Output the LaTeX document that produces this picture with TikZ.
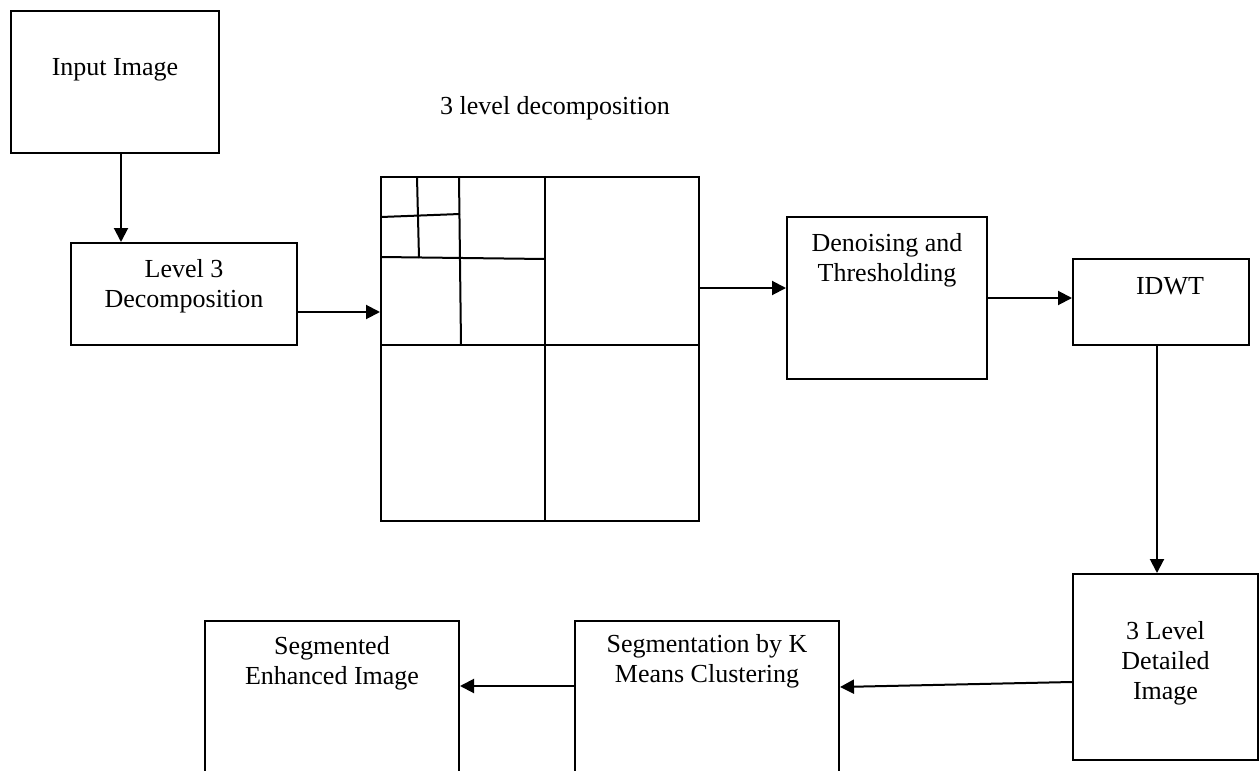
\documentclass[tikz,border=0pt]{standalone}
\usepackage{fontspec}
\setmainfont{Liberation Serif}
\usepackage{tikz}
\usetikzlibrary{positioning,arrows.meta}

\begin{document}
\begin{tikzpicture}[x=1pt,y=-1pt,
	blk/.style={rectangle,draw,line width=2pt},
	txt/.style={inner sep=0pt,align=center,font=\fontsize{26}{30}\selectfont},
	arr/.style={line width=2pt,-{Triangle[length=14pt,width=14pt]}},
	]
	\useasboundingbox (0,0) rectangle (1259,771);
	\clip (0,0) rectangle (1259,771);

	\node[blk,minimum width=208pt,minimum height=142pt] (inp) at (115,82) {};
	\node[blk,minimum width=226pt,minimum height=102pt] (lvl) at (184,294) {};
	\node[blk,minimum width=318pt,minimum height=344pt] (grid) at (540,349) {};
	\node[blk,minimum width=200pt,minimum height=162pt] (den) at (887,298) {};
	\node[blk,minimum width=176pt,minimum height=86pt] (idwt) at (1161,302) {};
	\node[blk,minimum width=185pt,minimum height=186pt] (det) at (1165.5,667) {};
	\node[blk,minimum width=264pt,minimum height=180pt] (seg) at (707,711) {};
	\node[blk,minimum width=254pt,minimum height=180pt] (sgd) at (332,711) {};

	\node[txt,below=48pt of inp.north] (inp-t) {Input Image};
	\node[txt,below=17pt of lvl.north] (lvl-t) {Level 3\\Decomposition};
	\node[txt,below=17pt of den.north] (den-t) {Denoising and\\Thresholding};
	\node[txt,below=19pt of idwt.north,xshift=9pt] (idwt-t) {IDWT};
	\node[txt,below=48pt of det.north] (det-t) {3 Level\\Detailed\\Image};
	\node[txt,below=14pt of seg.north] (seg-t) {Segmentation by K\\Means Clustering};
	\node[txt,below=16pt of sgd.north] (sgd-t) {Segmented\\Enhanced Image};
	\node[txt,anchor=base] (ttl) at ([xshift=15pt,yshift=62pt]grid.north) {3 level decomposition};

	\draw[line width=2pt] (545,177) -- (545,521);
	\draw[line width=2pt] (381,345) -- (699,345);
	\draw[line width=2pt] (459,177) -- (461,345);
	\draw[line width=2pt] (381,257) -- (545,259);
	\draw[line width=2pt] (417,177) -- (419,258);
	\draw[line width=2pt] (381,217) -- (460,214);

	\draw[arr] ([xshift=6pt]inp.south) -- ([xshift=6pt]inp.south |- lvl.north);
	\draw[arr] ([yshift=-18pt]lvl.east) -- ([yshift=-18pt]lvl.east -| grid.west);
	\draw[arr] ([yshift=10pt]den.west -| grid.east) -- ([yshift=10pt]den.west);
	\draw[arr] (den.east) -- (den.east -| idwt.west);
	\draw[arr] ([xshift=-4pt]idwt.south) -- ([xshift=-4pt]idwt.south |- det.north);
	\draw[arr] ([yshift=-15pt]det.west) -- ([yshift=24pt]seg.east);
	\draw[arr] ([yshift=25pt]seg.west) -- ([yshift=25pt]seg.west -| sgd.east);
\end{tikzpicture}
\end{document}
